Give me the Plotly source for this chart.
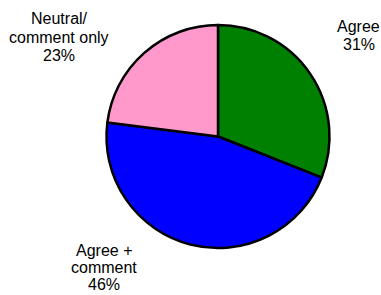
import plotly.graph_objects as go

categories = ["Agree", "Agree + comment", "Neutral/ comment only"]
values = [31, 46, 23]
colors = ["#008000", "#0000FF", "#FF99CC"]
label_lines = [["Agree", "31%"], ["Agree +", "comment", "46%"], ["Neutral/", "comment only", "23%"]]

W, H = 381, 295
# label anchor: centre x (px), first-line baseline y (px), line spacing (px)
label_pos = [(358.5, 31.7, 18.2), (103.7, 256.0, 17.0), (59.0, 24.3, 18.2)]
fs = 16

fig = go.Figure(go.Pie(
    labels=categories,
    values=values,
    sort=False,
    direction="clockwise",
    rotation=0,
    marker=dict(colors=colors, line=dict(color="black", width=2.5)),
    textinfo="none",
    hoverinfo="label+percent",
    showlegend=False,
    domain=dict(x=[(218 - 111.5) / W, (218 + 111.5) / W],
                y=[1 - 248 / H, 1 - 25 / H]),
))

annotations = []
for lines, (cx, by, lh) in zip(label_lines, label_pos):
    for i, t in enumerate(lines):
        base = by + i * lh
        cy = base - 5.5
        annotations.append(dict(
            text=t, x=cx / W, y=1 - cy / H, xref="paper", yref="paper",
            xanchor="center", yanchor="middle", showarrow=False,
            font=dict(family="Liberation Sans, Arial, sans-serif", size=fs, color="black"),
        ))

fig.update_layout(
    width=W, height=H,
    margin=dict(l=0, r=0, t=0, b=0),
    paper_bgcolor="white", plot_bgcolor="white",
    annotations=annotations,
)
fig.write_html("out.html", config={"displayModeBar": False},
               post_script="document.body.style.margin='0';document.body.style.overflow='hidden';")
